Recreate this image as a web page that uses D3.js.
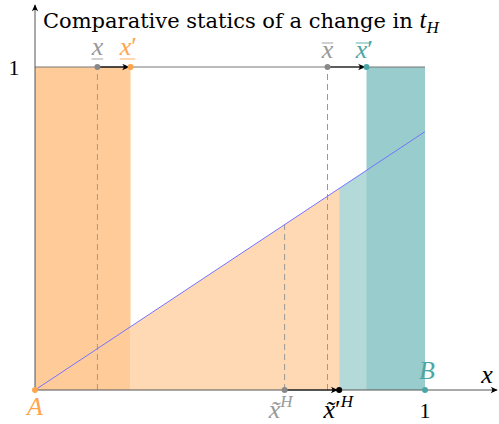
<!DOCTYPE html>
<html>
<head>
<meta charset="utf-8">
<script src="https://cdn.jsdelivr.net/npm/d3@7"></script>
<style>
  body { margin: 0; background: #fff; }
  svg text { font-family: "Liberation Serif", "DejaVu Serif", serif; }
</style>
</head>
<body>
<svg id="chart" width="499" height="424"></svg>
<script>
// values (unit square)
const thresholdsOld = [0.16, 0.75];     // x underbar, x bar
const thresholdsNew = [0.245, 0.85];    // x' underbar, x' bar
const tildeX = [0.64, 0.78];            // x~H, x~'H
const lineEnds = [[0, 0], [1, 0.8]];    // blue line
const tickLabels = ['1'];

const width = 499, height = 424;
const svg = d3.select('#chart');

const x = d3.scaleLinear().domain([0, 1]).range([35, 425]);
const y = d3.scaleLinear().domain([0, 1]).range([390, 67]);
const lineY = v => lineEnds[0][1] + (lineEnds[1][1] - lineEnds[0][1]) * v;

const cOrange = '#ffcc99', cOrangeLight = '#ffd9b3';
const cTeal = '#99cccc', cTealLight = '#b3d9d9';
const cOrangeTxt = '#ffa64d', cTealTxt = '#4da6a6';

const defs = svg.append('defs');
defs.append('marker').attr('id', 'arr')
  .attr('viewBox', '0 0 10 10').attr('refX', 9).attr('refY', 5)
  .attr('markerWidth', 8).attr('markerHeight', 8)
  .attr('markerUnits', 'userSpaceOnUse').attr('orient', 'auto')
  .append('path').attr('d', 'M1,1 Q5,5 1,9 L10,5 Z').attr('fill', '#000');

// fills
const area = d3.area().x(d => x(d)).y0(y(0)).y1(d => y(lineY(d)));
svg.append('path').datum([thresholdsNew[0], tildeX[1]])
  .attr('d', area).attr('fill', cOrangeLight);
svg.append('path').datum([tildeX[1], 1])
  .attr('d', area).attr('fill', cTealLight);
svg.append('rect')
  .attr('x', x(0)).attr('y', y(1))
  .attr('width', x(thresholdsNew[0]) - x(0)).attr('height', y(0) - y(1))
  .attr('fill', cOrange);
svg.append('rect')
  .attr('x', x(thresholdsNew[1])).attr('y', y(1))
  .attr('width', x(1) - x(thresholdsNew[1])).attr('height', y(0) - y(1))
  .attr('fill', cTeal);

// top line at 1
svg.append('line')
  .attr('x1', x(0)).attr('x2', x(1)).attr('y1', y(1)).attr('y2', y(1))
  .attr('stroke', '#777').attr('stroke-width', 1);

// dashed guides
const dashed = [
  [thresholdsOld[0], 1], [thresholdsOld[1], 1], [tildeX[0], lineY(tildeX[0])]
];
svg.selectAll('.guide').data(dashed).enter().append('line')
  .attr('class', 'guide')
  .attr('x1', d => x(d[0])).attr('x2', d => x(d[0]))
  .attr('y1', y(0)).attr('y2', d => y(d[1]))
  .attr('stroke', '#999').attr('stroke-width', 1).attr('stroke-dasharray', '6,4');

// axes
svg.append('line')
  .attr('x1', x(0)).attr('x2', 497).attr('y1', y(0)).attr('y2', y(0))
  .attr('stroke', '#555').attr('stroke-width', 1).attr('marker-end', 'url(#arr)');
svg.append('line')
  .attr('x1', x(0)).attr('x2', x(0)).attr('y1', y(0)).attr('y2', 5)
  .attr('stroke', '#555').attr('stroke-width', 1).attr('marker-end', 'url(#arr)');

// blue line
svg.append('line')
  .attr('x1', x(lineEnds[0][0])).attr('y1', y(lineEnds[0][1]))
  .attr('x2', x(lineEnds[1][0])).attr('y2', y(lineEnds[1][1]))
  .attr('stroke', '#7373ff').attr('stroke-width', 1);

// shift arrows
const shifts = [
  [thresholdsOld[0], thresholdsNew[0], 1],
  [thresholdsOld[1], thresholdsNew[1], 1],
  [tildeX[0], tildeX[1], 0]
];
svg.selectAll('.shift').data(shifts).enter().append('line')
  .attr('class', 'shift')
  .attr('x1', d => x(d[0])).attr('x2', d => x(d[1]) - 2)
  .attr('y1', d => y(d[2])).attr('y2', d => y(d[2]))
  .attr('stroke', '#000').attr('stroke-width', 1.2).attr('marker-end', 'url(#arr)');

// points
const pts = [
  [thresholdsOld[0], 1, '#888'], [thresholdsNew[0], 1, cOrangeTxt],
  [thresholdsOld[1], 1, '#888'], [thresholdsNew[1], 1, cTealTxt],
  [tildeX[0], 0, '#888'], [tildeX[1], 0, '#000'],
  [0, 0, cOrangeTxt], [1, 0, cTealTxt]
];
svg.selectAll('.pt').data(pts).enter().append('circle')
  .attr('cx', d => x(d[0])).attr('cy', d => y(d[1])).attr('r', 3)
  .attr('fill', d => d[2]);

// labels
const fs = 26;
const title = svg.append('text').attr('x', 43).attr('y', 28).attr('font-size', 21)
  .style('font-family', '"DejaVu Serif", serif')
  .text('Comparative statics of a change in ');
title.append('tspan').attr('font-style', 'italic').style('font-family', '"Liberation Serif", serif')
  .attr('font-size', 25).text('t');
title.append('tspan').attr('font-style', 'italic').style('font-family', '"Liberation Serif", serif')
  .attr('font-size', 17).attr('dy', 5).text('H');

function mathX(cx, base, color, opts) {
  const g = svg.append('g').attr('fill', color);
  const t = g.append('text').attr('y', base).attr('font-size', fs).attr('font-style', 'italic');
  t.append('tspan').text(opts.tilde ? 'x\u0303' : 'x');
  const w = t.node().getComputedTextLength();
  const left = cx - w / 2;
  t.attr('x', left);
  if (opts.prime) t.append('tspan').attr('font-style', 'normal').text('\u2032');
  if (opts.sup) t.append('tspan').attr('font-size', 17).attr('dy', -11).text(opts.sup);
  const lw = w + (opts.prime ? 4 : 0);
  if (opts.under) g.append('line').attr('x1', left).attr('x2', left + lw)
    .attr('y1', base + 4).attr('y2', base + 4).attr('stroke', color).attr('stroke-width', 0.9);
  if (opts.over) g.append('line').attr('x1', left).attr('x2', left + lw)
    .attr('y1', base - 15).attr('y2', base - 15).attr('stroke', color).attr('stroke-width', 0.9);
}
mathX(x(thresholdsOld[0]), 55, '#999', { under: true });
mathX(x(thresholdsNew[0]) - 5, 55, cOrangeTxt, { under: true, prime: true });
mathX(x(thresholdsOld[1]), 58, '#999', { over: true });
mathX(x(thresholdsNew[1]) - 5, 58, cTealTxt, { over: true, prime: true });
mathX(x(tildeX[0]) - 10, 418, '#999', { tilde: true, sup: 'H' });
mathX(x(tildeX[1]) - 10, 418, '#000', { tilde: true, prime: true, sup: 'H' });

svg.append('text').attr('x', x(0)).attr('y', 415).attr('font-size', fs)
  .attr('font-style', 'italic').attr('text-anchor', 'middle').attr('fill', cOrangeTxt).text('A');
svg.append('text').attr('x', x(1) + 2).attr('y', 379).attr('font-size', fs)
  .attr('font-style', 'italic').attr('text-anchor', 'middle').attr('fill', cTealTxt).text('B');
svg.append('text').attr('x', 487).attr('y', 383).attr('font-size', fs)
  .attr('font-style', 'italic').attr('text-anchor', 'middle').text('x');

svg.append('text').attr('x', 14).attr('y', y(1) + 8).attr('font-size', 22)
  .attr('text-anchor', 'middle').text(tickLabels[0]);
svg.append('text').attr('x', x(1)).attr('y', 418).attr('font-size', 22)
  .attr('text-anchor', 'middle').text(tickLabels[0]);
</script>
</body>
</html>
